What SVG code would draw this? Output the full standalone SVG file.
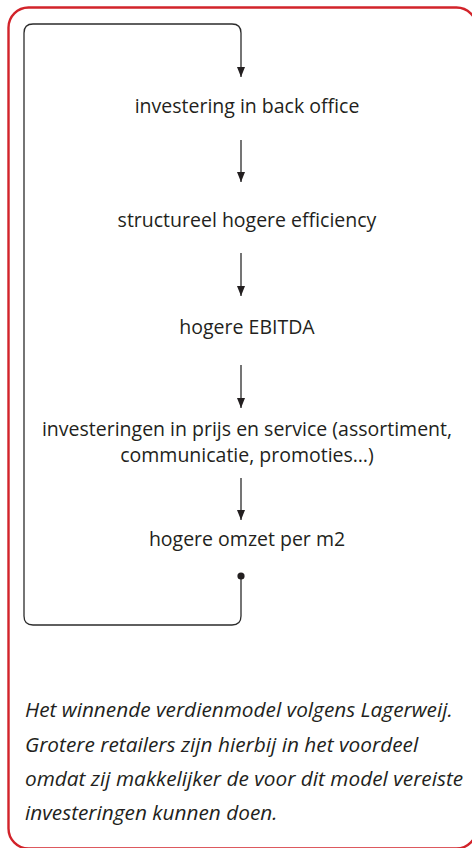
<svg xmlns="http://www.w3.org/2000/svg" width="472" height="848" viewBox="0 0 472 848">
  <style>
    .frame { fill: none; stroke: #d2232a; stroke-width: 2.4; }
    .wire { fill: none; stroke: #2b2b2b; stroke-width: 1.3; }
    .label { font-family: "Open Sans", "Noto Sans", "Liberation Sans", sans-serif; font-size: 19.5px; fill: #231f20; text-anchor: middle; }
    .caption { font-family: "Open Sans", "Noto Sans", "Liberation Sans", sans-serif; font-style: italic; font-size: 20.8px; fill: #231f20; }
  </style>
  <defs>
    <marker id="arrow" viewBox="0 0 10 8" refX="10" refY="4" markerWidth="10" markerHeight="8" markerUnits="userSpaceOnUse" orient="auto">
      <path d="M0,0 L10,4 L0,8 Z" fill="#231f20"/>
    </marker>
  </defs>

  <!-- outer frame -->
  <rect class="frame" x="8.5" y="7.5" width="468" height="841" rx="20" ry="20"/>

  <!-- connectors -->
  <g id="connectors">
    <path class="wire" d="M241,140 V182" marker-end="url(#arrow)"/>
    <path class="wire" d="M241,253 V296" marker-end="url(#arrow)"/>
    <path class="wire" d="M241,365 V408" marker-end="url(#arrow)"/>
    <path class="wire" d="M241,478 V520" marker-end="url(#arrow)"/>
    <!-- feedback loop back to the top -->
    <path class="wire" d="M241,576 V616 Q241,625 232,625 H33 Q24,625 24,616 V33 Q24,24 33,24 H232 Q241,24 241,33 V77" marker-end="url(#arrow)"/>
    <circle cx="241" cy="576" r="3.6" fill="#231f20"/>
  </g>

  <!-- nodes -->
  <g id="node-backoffice">
    <text class="label" x="247" y="113">investering in back office</text>
  </g>
  <g id="node-efficiency">
    <text class="label" x="247" y="226.5">structureel hogere efficiency</text>
  </g>
  <g id="node-ebitda">
    <text class="label" x="247" y="334">hogere EBITDA</text>
  </g>
  <g id="node-prijs">
    <text class="label" x="247" y="436">investeringen in prijs en service (assortiment,</text>
    <text class="label" x="247" y="461.5">communicatie, promoties…)</text>
  </g>
  <g id="node-omzet">
    <text class="label" x="247" y="546">hogere omzet per m2</text>
  </g>

  <!-- caption -->
  <g id="caption">
    <text class="caption" x="25" y="717">Het winnende verdienmodel volgens Lagerweij.</text>
    <text class="caption" x="25" y="751.5">Grotere retailers zijn hierbij in het voordeel</text>
    <text class="caption" x="25" y="786">omdat zij makkelijker de voor dit model vereiste</text>
    <text class="caption" x="25" y="820">investeringen kunnen doen.</text>
  </g>
</svg>
